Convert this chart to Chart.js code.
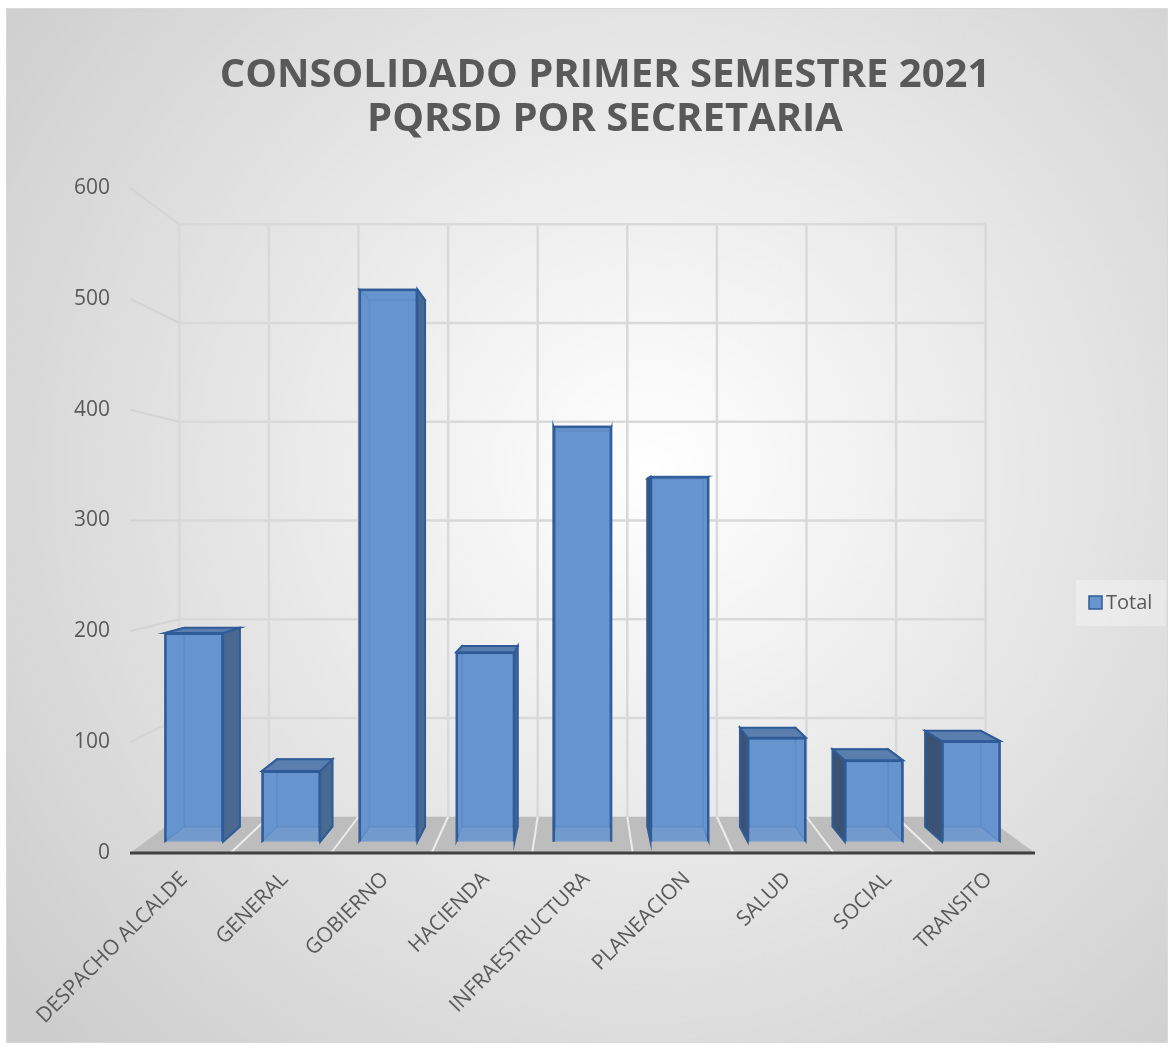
<!DOCTYPE html>
<html>
<head>
<meta charset="utf-8">
<title>Consolidado primer semestre 2021 - PQRSD por secretaria</title>
<script src="https://cdn.jsdelivr.net/npm/chart.js@4.4.1/dist/chart.umd.min.js"></script>
<style>
    html, body { margin: 0; padding: 0; background: #ffffff; }
    #wrap { width: 1174px; height: 1050px; }
</style>
</head>
<body>
<div id="wrap"><canvas id="chart" width="1174" height="1050"></canvas></div>
<script>
// Chart data
const categories = ['DESPACHO ALCALDE', 'GENERAL', 'GOBIERNO', 'HACIENDA', 'INFRAESTRUCTURA', 'PLANEACION', 'SALUD', 'SOCIAL', 'TRANSITO'];
const totals = [195, 66, 516, 177, 388, 341, 97, 76, 94];
const valueTicks = [0, 100, 200, 300, 400, 500, 600];
const titleLines = ['CONSOLIDADO PRIMER SEMESTRE 2021', 'PQRSD POR SECRETARIA'];
const seriesName = 'Total';

// Depth of each plane, as a scale about the centre of the plot (1 = front edge)
const FRONT_FACE = 0.966;
const BACK_FACE = 0.921;
const BACK_WALL = 0.891;

const TEXT = '#595959';
const BAR_FILL = 'rgba(103, 148, 206, 0.86)';
const BAR_BASE = '#6794cd';
const BAR_EDGE = '#2f5c98';

// Hidden axes that place the bar fronts a little behind the front edge
const n = categories.length;
const yMax = valueTicks[valueTicks.length - 1];
const xbMin = -(n * (1 - FRONT_FACE) / (2 * FRONT_FACE) + 0.5);
const xbMax = xbMin + n / FRONT_FACE;
const ybMin = -yMax * (1 - FRONT_FACE) / (2 * FRONT_FACE);
const ybMax = ybMin + yMax / FRONT_FACE;

function poly(ctx, pts) {
    ctx.beginPath();
    ctx.moveTo(pts[0][0], pts[0][1]);
    for (let i = 1; i < pts.length; i++) ctx.lineTo(pts[i][0], pts[i][1]);
    ctx.closePath();
}

// Background, walls, floor and the sides of the columns
const scene3d = {
    id: 'scene3d',
    beforeDraw(chart) {
        const ctx = chart.ctx;
        ctx.save();
        ctx.fillStyle = '#ffffff';
        ctx.fillRect(0, 0, chart.width, chart.height);
        const g = ctx.createRadialGradient(650, 470, 0, 650, 470, 820);
        g.addColorStop(0, '#ffffff');
        g.addColorStop(1, '#cdcdcd');
        ctx.fillStyle = g;
        ctx.fillRect(6, 8, 1162, 1035);
        ctx.strokeStyle = '#d9d9d9';
        ctx.lineWidth = 1;
        ctx.strokeRect(6.5, 8.5, 1161, 1034);

        // title
        ctx.fillStyle = TEXT;
        ctx.font = 'bold 40px "Open Sans"';
        ctx.textAlign = 'center';
        ctx.textBaseline = 'middle';
        titleLines.forEach((line, i) => ctx.fillText(line, 605, 76 + i * 44));
        ctx.restore();
    },
    beforeDatasetsDraw(chart) {
        const ctx = chart.ctx;
        const {left: L, right: R, top: T, bottom: B} = chart.chartArea;
        const cx = (L + R) / 2, cy = (T + B) / 2;
        const proj = (x, y, s) => [cx + (x - cx) * s, cy + (y - cy) * s];
        const xs = chart.scales.x, ys = chart.scales.y;

        ctx.save();
        // back wall grid
        ctx.strokeStyle = '#d9d9d9';
        ctx.lineWidth = 2.5;
        const wallTop = proj(L, ys.getPixelForValue(yMax), BACK_WALL)[1];
        const wallBottom = proj(L, ys.getPixelForValue(0), BACK_WALL)[1];
        valueTicks.forEach(v => {
            if (v === 0) return;
            const y = ys.getPixelForValue(v);
            const a = proj(L, y, BACK_WALL), b = proj(R, y, BACK_WALL);
            ctx.beginPath();
            ctx.moveTo(a[0], a[1]);
            ctx.lineTo(b[0], b[1]);
            ctx.stroke();
        });
        for (let k = 0; k <= n; k++) {
            const x = proj(xs.getPixelForValue(k - 0.5), 0, BACK_WALL)[0];
            ctx.beginPath();
            ctx.moveTo(x, wallTop);
            ctx.lineTo(x, wallBottom);
            ctx.stroke();
        }
        // side wall lines from the value labels
        ctx.strokeStyle = '#d4d4d4';
        ctx.lineWidth = 2;
        valueTicks.forEach(v => {
            if (v === 0) return;
            const y = ys.getPixelForValue(v);
            const b = proj(L, y, BACK_WALL);
            ctx.beginPath();
            ctx.moveTo(L, y);
            ctx.lineTo(b[0], b[1]);
            ctx.stroke();
        });
        // floor
        poly(ctx, [[L, B], [R, B], proj(R, B, BACK_WALL), proj(L, B, BACK_WALL)]);
        ctx.fillStyle = '#bdbdbd';
        ctx.fill();
        ctx.strokeStyle = '#ececec';
        ctx.lineWidth = 2;
        for (let k = 1; k < n; k++) {
            const xf = xs.getPixelForValue(k - 0.5);
            const b = proj(xf, B, BACK_WALL);
            ctx.beginPath();
            ctx.moveTo(xf, B);
            ctx.lineTo(b[0], b[1]);
            ctx.stroke();
        }
        ctx.strokeStyle = '#404040';
        ctx.lineWidth = 3;
        ctx.beginPath();
        ctx.moveTo(L, B);
        ctx.lineTo(R, B);
        ctx.stroke();

        // column sides, top and back
        const k = BACK_FACE / FRONT_FACE;
        chart.getDatasetMeta(0).data.forEach(el => {
            const {x, y, base, width} = el.getProps(['x', 'y', 'base', 'width'], true);
            const x1 = x - width / 2, x2 = x + width / 2;
            const f = {tl: [x1, y], tr: [x2, y], br: [x2, base], bl: [x1, base]};
            const b = {};
            Object.keys(f).forEach(key => { b[key] = [cx + (f[key][0] - cx) * k, cy + (f[key][1] - cy) * k]; });
            const faces = {
                back: [b.tl, b.tr, b.br, b.bl],
                left: [f.tl, b.tl, b.bl, f.bl],
                right: [f.tr, b.tr, b.br, f.br],
                top: [f.tl, f.tr, b.tr, b.tl]
            };
            ctx.fillStyle = BAR_BASE;
            Object.values(faces).forEach(p => { poly(ctx, p); ctx.fill(); });

            const rightSeen = b.tr[0] > f.tr[0];
            const topSeen = b.tl[1] < f.tl[1];
            // hidden edges, seen through the front
            ctx.strokeStyle = 'rgba(47, 92, 152, 0.9)';
            ctx.lineWidth = 1.5;
            poly(ctx, faces.back); ctx.stroke();
            poly(ctx, rightSeen ? faces.left : faces.right); ctx.stroke();
            if (!topSeen) { poly(ctx, faces.top); ctx.stroke(); }

            ctx.lineWidth = 2;
            ctx.strokeStyle = BAR_EDGE;
            ctx.fillStyle = rightSeen ? '#4a6991' : '#3b5273';
            poly(ctx, rightSeen ? faces.right : faces.left);
            ctx.fill(); ctx.stroke();
            if (topSeen) {
                ctx.fillStyle = '#5a7eae';
                poly(ctx, faces.top);
                ctx.fill(); ctx.stroke();
            }
        });
        ctx.restore();
    },
    afterDraw(chart) {
        // legend
        const ctx = chart.ctx;
        ctx.save();
        ctx.fillStyle = 'rgba(255, 255, 255, 0.3)';
        ctx.fillRect(1076, 580, 90, 46);
        ctx.fillStyle = BAR_BASE;
        ctx.fillRect(1089, 596, 13, 13);
        ctx.strokeStyle = BAR_EDGE;
        ctx.lineWidth = 1.5;
        ctx.strokeRect(1089, 596, 13, 13);
        ctx.fillStyle = TEXT;
        ctx.font = '20px "Open Sans"';
        ctx.textBaseline = 'middle';
        ctx.fillText(seriesName, 1106, 603);
        ctx.restore();
    }
};

const ctx = document.getElementById('chart').getContext('2d');
new Chart(ctx, {
    type: 'bar',
    data: {
        labels: categories,
        datasets: [{
            label: seriesName,
            data: totals.map((v, i) => ({x: i, y: v})),
            xAxisID: 'xb',
            yAxisID: 'yb',
            backgroundColor: BAR_FILL,
            borderColor: BAR_EDGE,
            borderWidth: 2,
            barPercentage: 0.6,
            categoryPercentage: 1
        }]
    },
    options: {
        responsive: false,
        animation: false,
        layout: { padding: { top: 188, right: 139, bottom: 0, left: 0 } },
        plugins: {
            legend: { display: false },
            tooltip: { enabled: false },
            title: { display: false }
        },
        scales: {
            x: {
                type: 'category',
                offset: true,
                grid: { display: false, drawTicks: false },
                border: { display: false },
                ticks: {
                    color: TEXT,
                    font: { family: '"Open Sans"', size: 21 },
                    minRotation: 45,
                    maxRotation: 45,
                    padding: 14,
                    labelOffset: 4,
                    autoSkip: false
                },
                afterFit(scale) {
                    scale.height = 197;
                    scale.paddingLeft = 0;
                    scale.paddingRight = 0;
                }
            },
            y: {
                type: 'linear',
                min: 0,
                max: yMax,
                grid: { display: false, drawTicks: false },
                border: { display: false },
                ticks: {
                    stepSize: 100,
                    color: TEXT,
                    font: { family: '"Open Sans"', size: 21 },
                    padding: 20
                },
                afterFit(scale) {
                    scale.width = 130;
                }
            },
            xb: {
                type: 'linear',
                display: false,
                offset: false,
                min: xbMin,
                max: xbMax,
                afterBuildTicks(scale) {
                    scale.ticks = categories.map((c, i) => ({value: i}));
                }
            },
            yb: {
                type: 'linear',
                display: false,
                min: ybMin,
                max: ybMax
            }
        }
    },
    plugins: [scene3d]
});
</script>
</body>
</html>
